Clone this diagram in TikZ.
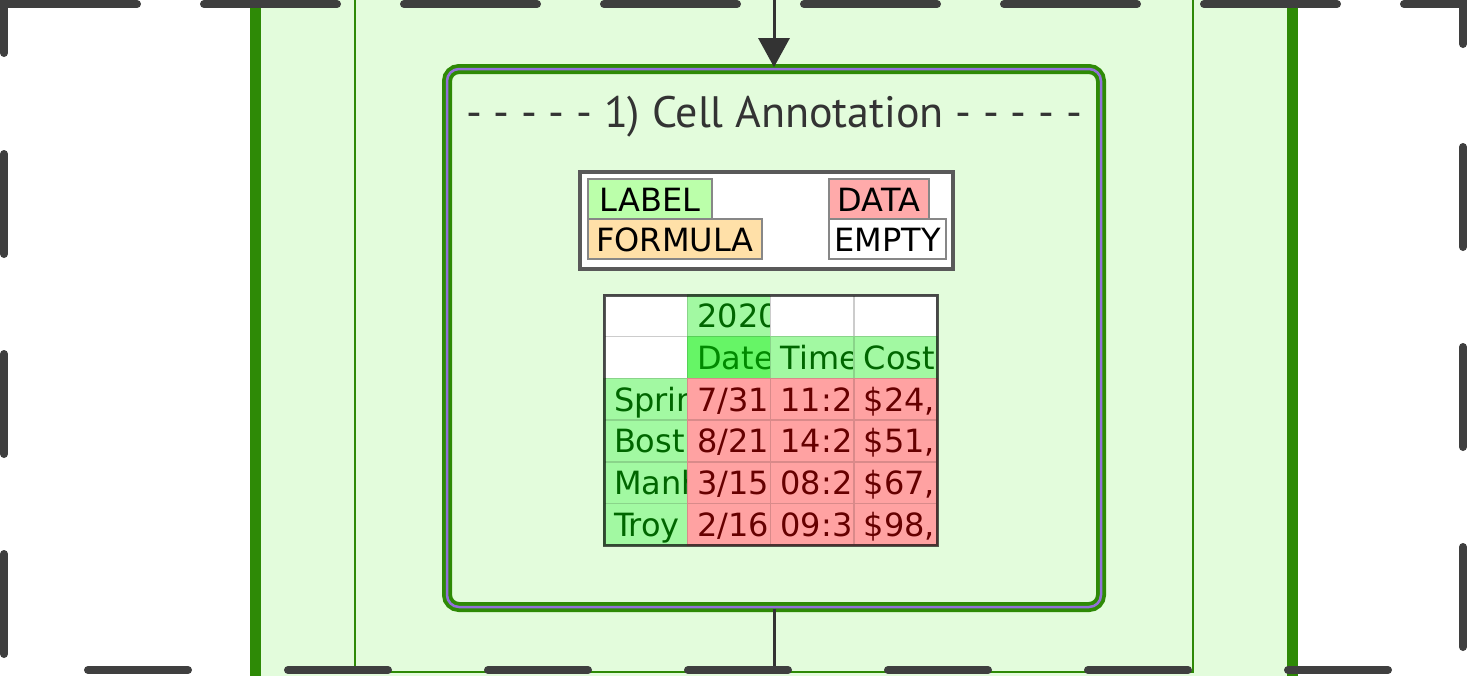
\documentclass[tikz,border=0pt]{standalone}
\usepackage{fontspec}
\usetikzlibrary{positioning,arrows.meta}
\newfontfamily\titlefont{PT Sans}
\newfontfamily\cellfont{DejaVu Sans}
\definecolor{clgreen}{HTML}{2E8A06}
\definecolor{clfill}{HTML}{E3FCDC}
\definecolor{edgegray}{HTML}{333333}
\definecolor{framegray}{HTML}{3F3F3F}
\definecolor{boxpurple}{HTML}{9370DB}
\definecolor{labfill}{HTML}{BBFFAA}
\definecolor{formfill}{HTML}{FFE0A8}
\definecolor{datfill}{HTML}{FFAAAA}
\definecolor{hdrfill}{HTML}{A2F9A2}
\definecolor{datehl}{HTML}{66F566}
\definecolor{redfill}{HTML}{FFA2A2}
\definecolor{greentxt}{HTML}{006600}
\definecolor{datetxt}{HTML}{008A00}
\definecolor{redtxt}{HTML}{660000}

% table cell: row, column, style, text colour, text
\newcommand\tcell[5]{%
  \node[#3, path picture={\node[anchor=base west, inner sep=0pt, minimum width=0pt, minimum height=0pt, draw=none, fill=none, text=#4, font=\cellfont\fontsize{32}{38}\selectfont]
      at ([xshift=10pt,yshift=9pt]path picture bounding box.south west) {#5};}]
    (t#1#2) at ({645.65+83.3*#2},{315.85+41.7*#1}) {};}

\begin{document}
\begin{tikzpicture}[x=1pt,y=-1pt,
  framedash/.style={draw=framegray,line width=8pt,line cap=round},
  conn/.style={draw=edgegray,line width=3pt},
  annotbox/.style={rectangle,rounded corners=12pt,draw=clgreen,double=boxpurple,double distance=2.5pt,line width=3.75pt,fill=clfill,minimum width=654pt,minimum height=538pt},
  legframe/.style={rectangle,draw=black!65,line width=4pt,fill=white,minimum width=373pt,minimum height=97pt},
  legcell/.style={rectangle,draw=black!47,line width=2pt,minimum height=40pt,inner sep=3pt,outer sep=0pt,text height=24pt,text depth=0pt,font=\cellfont\fontsize{32}{38}\selectfont},
  tcellw/.style={rectangle,minimum width=83.3pt,minimum height=41.7pt,inner sep=0pt,outer sep=0pt,line width=1.5pt},
  wcell/.style={tcellw,draw=black!20,fill=white},
  gcell/.style={tcellw,draw=hdrfill!85!black,fill=hdrfill},
  dcell/.style={tcellw,draw=datehl!85!black,fill=datehl},
  rcell/.style={tcellw,draw=redfill!85!black,fill=redfill}]
	\useasboundingbox (0,0) rectangle (1467,675);
	\clip (0,0) rectangle (1467,675);
	% clusters
	\draw[clgreen,line width=11pt,fill=clfill] (255.5,-20) rectangle (1292.5,720);
	\draw[clgreen,line width=2pt,fill=clfill] (355,-20) rectangle (1193,672);
	% annotation step
	\node[annotbox] (annot) at (774,338) {};
	\node[font=\titlefont\fontsize{44}{52}\selectfont,text=edgegray,anchor=base] (anntitle) at (774,127) {- - - - - 1) Cell Annotation - - - - -};
	\coordinate (into) at (774,-10);
	\coordinate (outof) at (774,672);
	\draw[conn,-{Triangle[length=29pt,width=31pt]}] (into) -- (annot.north);
	\draw[conn] (annot.south) -- (outof);
	% legend
	\node[legframe] (legend) at (766.5,220.5) {};
	\node[legcell,fill=labfill,minimum width=124pt] (lab) at (650,199) {LABEL};
	\node[legcell,fill=formfill,minimum width=174pt,below=0pt of lab.south west,anchor=north west] (form) {FORMULA};
	\node[legcell,fill=datfill,minimum width=100pt] (dat) at (879,199) {DATA};
	\node[legcell,fill=white,minimum width=117pt,below=0pt of dat.south west,anchor=north west] (emp) {EMPTY};
	% sheet
	\tcell{0}{0}{wcell}{black}{}
	\tcell{0}{1}{gcell}{greentxt}{2020}
	\tcell{0}{2}{wcell}{black}{}
	\tcell{0}{3}{wcell}{black}{}
	\tcell{1}{0}{wcell}{black}{}
	\tcell{1}{1}{dcell}{datetxt}{Date}
	\tcell{1}{2}{gcell}{greentxt}{Time}
	\tcell{1}{3}{gcell}{greentxt}{Cost}
	\tcell{2}{0}{gcell}{greentxt}{Sprin}
	\tcell{2}{1}{rcell}{redtxt}{7/31}
	\tcell{2}{2}{rcell}{redtxt}{11:2}
	\tcell{2}{3}{rcell}{redtxt}{\$24,}
	\tcell{3}{0}{gcell}{greentxt}{Bost}
	\tcell{3}{1}{rcell}{redtxt}{8/21}
	\tcell{3}{2}{rcell}{redtxt}{14:2}
	\tcell{3}{3}{rcell}{redtxt}{\$51,}
	\tcell{4}{0}{gcell}{greentxt}{Manh}
	\tcell{4}{1}{rcell}{redtxt}{3/15}
	\tcell{4}{2}{rcell}{redtxt}{08:2}
	\tcell{4}{3}{rcell}{redtxt}{\$67,}
	\tcell{5}{0}{gcell}{greentxt}{Troy}
	\tcell{5}{1}{rcell}{redtxt}{2/16}
	\tcell{5}{2}{rcell}{redtxt}{09:3}
	\tcell{5}{3}{rcell}{redtxt}{\$98,}
	\draw[draw=black,draw opacity=0.65,line width=3pt] (t00.north west) rectangle (t53.south east);
	% outer dashed frame
	\draw[framedash,line join=miter] (4,53) -- (4,4) -- (137,4);
	\draw[framedash,dash pattern=on 133pt off 67pt] (204,4) -- (1400,4);
	\draw[framedash,line join=miter] (1404,4) -- (1463,4) -- (1463,44);
	\draw[framedash,dash pattern=on 100pt off 100pt] (1463,147) -- (1463,700);
	\draw[framedash,dash pattern=on 100pt off 100pt] (88,670) -- (1467,670);
	\draw[framedash,dash pattern=on 100pt off 100pt] (4,154) -- (4,700);
\end{tikzpicture}
\end{document}
